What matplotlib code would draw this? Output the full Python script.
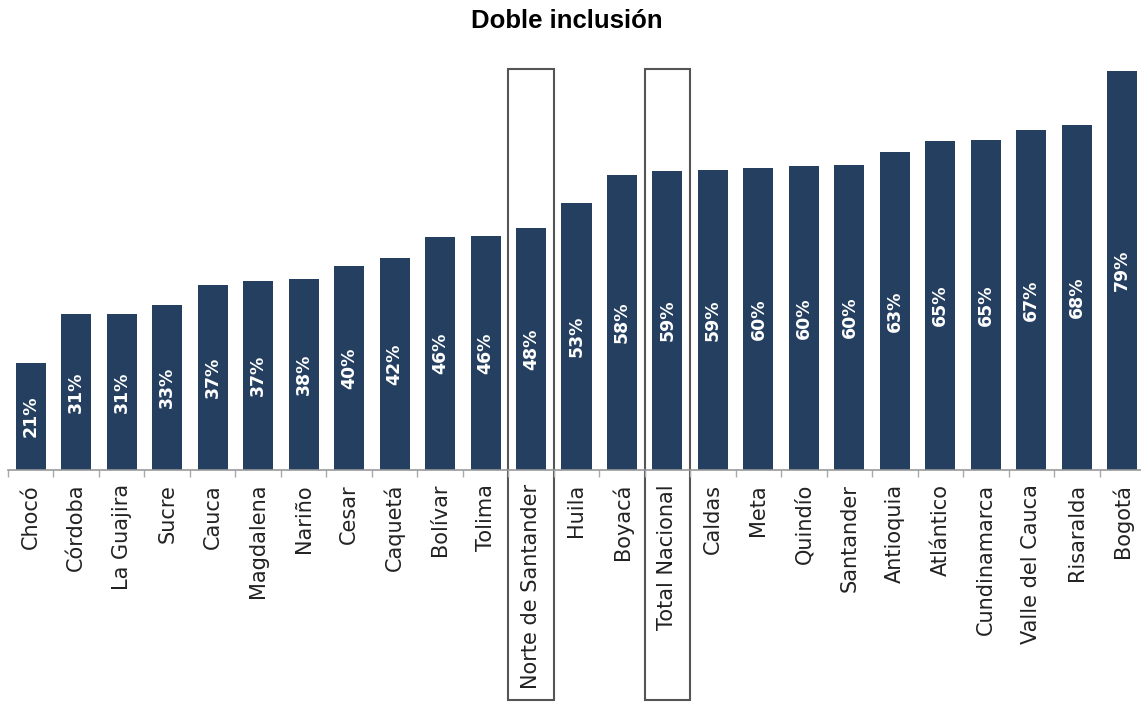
import matplotlib
matplotlib.use("Agg")
from matplotlib import pyplot as plt
from matplotlib.patches import Rectangle
from matplotlib.transforms import blended_transform_factory

departamentos = ['Chocó', 'Córdoba', 'La Guajira', 'Sucre', 'Cauca', 'Magdalena', 'Nariño',
                 'Cesar', 'Caquetá', 'Bolívar', 'Tolima', 'Norte de Santander', 'Huila',
                 'Boyacá', 'Total Nacional', 'Caldas', 'Meta', 'Quindío', 'Santander',
                 'Antioquia', 'Atlántico', 'Cundinamarca', 'Valle del Cauca', 'Risaralda', 'Bogotá']
valores = [21.2, 30.9, 30.9, 32.6, 36.6, 37.4, 37.8, 40.4, 42.0, 46.1, 46.3, 47.9, 52.9,
           58.4, 59.2, 59.4, 59.8, 60.2, 60.3, 63.0, 65.2, 65.4, 67.4, 68.4, 79.0]
etiquetas = ['21%', '31%', '31%', '33%', '37%', '37%', '38%', '40%', '42%', '46%', '46%', '48%',
             '53%', '58%', '59%', '59%', '60%', '60%', '60%', '63%', '65%', '65%', '67%', '68%', '79%']
resaltados = ['Norte de Santander', 'Total Nacional']

plt.rcParams['font.family'] = ['DejaVu Sans']

fig = plt.figure(figsize=(11.41, 7.03), dpi=100)
ax = fig.add_axes([8 / 1141, 1 - 470 / 703, 1137 / 1141, 404 / 703])

x = range(len(departamentos))
ax.bar(x, valores, width=0.66, color='#253f60')
for i, v in enumerate(valores):
    ax.text(i, v / 2, etiquetas[i], rotation=90, ha='center', va='center',
            color='white', fontweight='bold', fontsize=12.5)

ax.set_xlim(-0.5, len(departamentos) - 0.5)
ax.set_ylim(0, 80)
ax.set_xticks(list(x))
ax.set_xticklabels(departamentos, rotation=90, fontsize=15, color='#222222')
ax.tick_params(axis='x', length=0, pad=10)
ax.set_xticks([i + 0.5 for i in range(-1, len(departamentos))], minor=True)
ax.tick_params(axis='x', which='minor', length=5, color='#aaaaaa', width=1)
ax.set_yticks([])
for s in ['top', 'right', 'left']:
    ax.spines[s].set_visible(False)
ax.spines['bottom'].set_color('#999999')
ax.spines['bottom'].set_linewidth(1.2)

trans = blended_transform_factory(ax.transData, fig.transFigure)
for nombre in resaltados:
    i = departamentos.index(nombre)
    ax.add_patch(Rectangle((i - 0.5, 1 - 700 / 703), 1.0, (700 - 69) / 703,
                           transform=trans, fill=False, edgecolor='#555555',
                           linewidth=1.5, clip_on=False))

fig.text(567 / 1141, 1 - 21 / 703, 'Doble inclusión', ha='center', va='center',
         fontsize=18.5, fontweight='bold', color='black', family='Liberation Sans')

fig.savefig('out.png', dpi=100)
